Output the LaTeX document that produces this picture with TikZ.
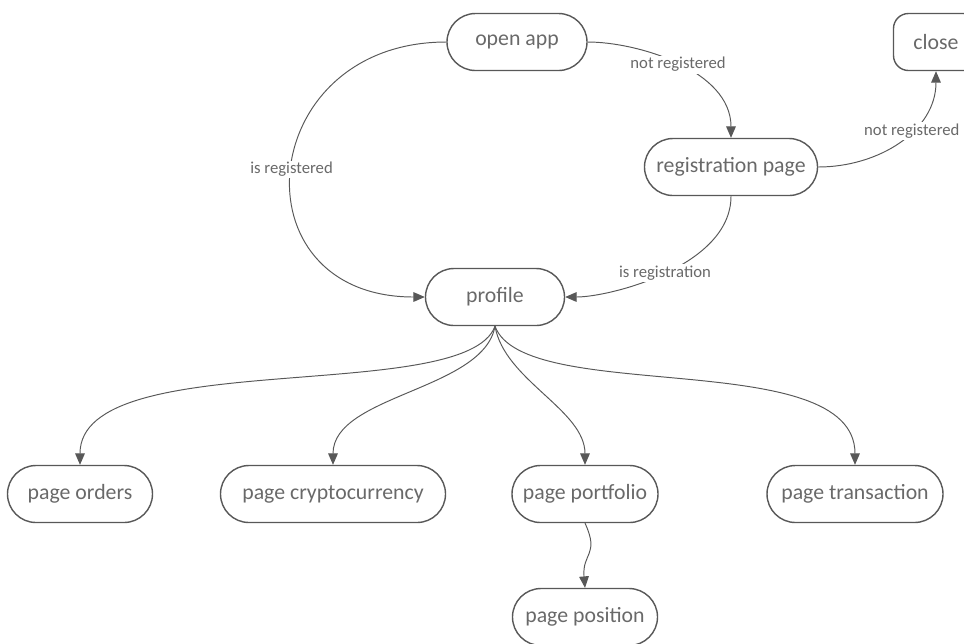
\documentclass[tikz,border=0pt]{standalone}
\usepackage{fontspec}
\setmainfont{Carlito}
\usetikzlibrary{arrows.meta}
\definecolor{lineC}{RGB}{88, 88, 88}
\definecolor{textC}{RGB}{105, 105, 105}

\begin{document}
\begin{tikzpicture}[>={Triangle[length=6.5pt, width=5.5pt]}, font=\fontsize{12.4}{14}\selectfont,
  state/.style={draw=lineC, line width=0.8pt, rounded corners=0.57cm, minimum height=1.14cm, text=textC},
  edge/.style={->, lineC, line width=0.55pt},
  lbl/.style={fill=white, inner sep=1pt, text=textC, font=\fontsize{9.5}{11}\selectfont}]
  \useasboundingbox (0, 0) rectangle (19.28, -12.86);
  \clip (0, 0) rectangle (19.28, -12.86);

  \node[state, minimum width=2.8cm] (open) at (10.34, -0.84) {open app};
  \node[state, rounded corners=0.3cm, minimum width=1.7cm] (close) at (18.72, -0.84) {close};
  \node[state, minimum width=3.46cm] (reg) at (14.62, -3.34) {registration page};
  \node[state, minimum width=2.78cm] (profile) at (9.9, -5.94) {profile};

  \node[state, minimum width=2.9cm] (orders) at (1.6, -9.88) {page orders};
  \node[state, minimum width=4.5cm] (crypto) at (6.66, -9.88) {page cryptocurrency};
  \node[state, minimum width=2.92cm] (portfolio) at (11.7, -9.88) {page portfolio};
  \node[state, minimum width=3.52cm] (trans) at (17.1, -9.88) {page transaction};
  \node[state, minimum width=2.9cm] (position) at (11.7, -12.34) {page position};

  % registration branch
  \draw[edge] (open.west) to[out=180, in=180, out distance=3.84cm, in distance=3.84cm]
    node[lbl] {is registered} (profile.west);
  \draw[edge] (open.east) to[out=0, in=90, out distance=1cm, in distance=1.35cm]
    node[lbl, pos=0.5] {not registered} (reg.north);
  \draw[edge] (reg.east) to[out=0, in=-90, out distance=1.2cm, in distance=1.2cm]
    node[lbl, pos=0.6] {not registered} (close.south);
  \draw[edge] (reg.south) to[out=-90, in=0, out distance=1.4cm, in distance=0.9cm]
    node[lbl] {is registration} (profile.east);

  % pages
  \draw[edge] (profile.south) to[out=-110, in=90, out distance=1.7cm, in distance=2.4cm] (orders.north);
  \draw[edge] (profile.south) to[out=-100, in=90, out distance=1.3cm, in distance=1.4cm] (crypto.north);
  \draw[edge] (profile.south) to[out=-80, in=90, out distance=1.1cm, in distance=1.1cm] (portfolio.north);
  \draw[edge] (profile.south) to[out=-70, in=90, out distance=1.7cm, in distance=2.4cm] (trans.north);
  \draw[edge] (portfolio.south) to[out=-65, in=95, out distance=0.7cm, in distance=0.7cm] (position.north);
\end{tikzpicture}
\end{document}
